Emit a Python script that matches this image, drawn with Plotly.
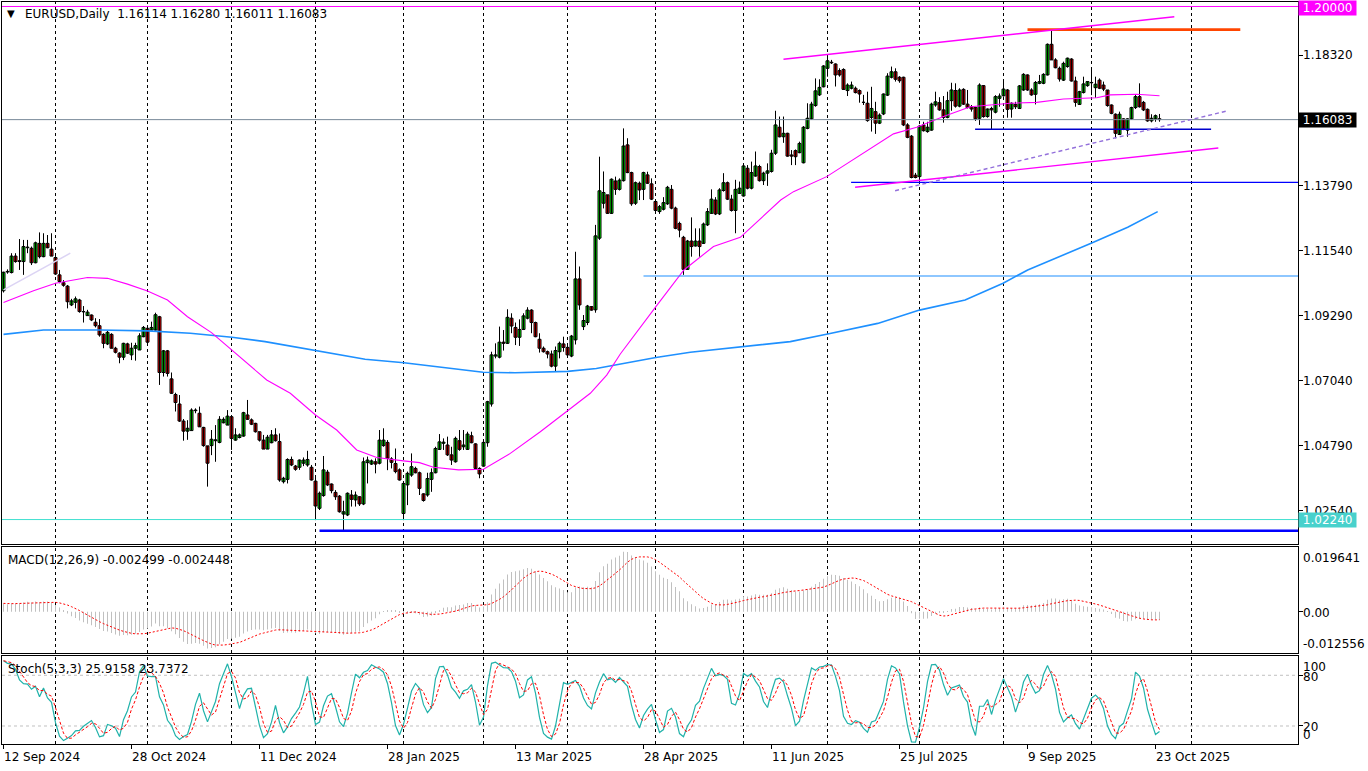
import plotly.graph_objects as go

# ---------------- data ----------------
O = [1.1016,1.1081,1.1079,1.1136,1.1120,1.1117,1.1165,1.1163,1.1113,1.1180,
     1.1134,1.1180,1.1160,1.1131,1.1071,1.1044,1.1032,1.0967,1.0976,1.0984,
     1.0944,1.0930,1.0932,1.0907,1.0895,1.0865,1.0832,1.0865,1.0817,1.0800,
     1.0786,1.0832,1.0794,1.0817,1.0811,1.0857,1.0886,1.0880,1.0880,1.0926,
     1.0733,1.0808,1.0711,1.0657,1.0624,1.0565,1.0530,1.0532,1.0601,1.0592,
     1.0543,1.0479,1.0480,1.0497,1.0491,1.0559,1.0551,1.0580,1.0499,1.0508,
     1.0513,1.0586,1.0569,1.0557,1.0528,1.0499,1.0468,1.0490,1.0517,1.0494,
     1.0355,1.0363,1.0432,1.0409,1.0405,1.0419,1.0413,1.0405,1.0357,1.0263,
     1.0307,1.0388,1.0347,1.0318,1.0305,1.0243,1.0240,1.0309,1.0292,1.0303,
     1.0278,1.0421,1.0416,1.0424,1.0419,1.0480,1.0491,1.0434,1.0418,1.0396,
     1.0245,1.0344,1.0378,1.0401,1.0386,1.0313,1.0309,1.0363,1.0386,1.0467,
     1.0488,1.0482,1.0448,1.0424,1.0497,1.0476,1.0467,1.0514,1.0486,1.0401,
     1.0409,1.0490,1.0624,1.0790,1.0786,1.0838,1.0834,1.0921,1.0889,1.0855,
     1.0882,1.0921,1.0949,1.0906,1.0848,1.0817,1.0805,1.0797,1.0755,1.0805,
     1.0832,1.0820,1.0790,1.0846,1.1057,1.0892,1.0906,1.0961,1.0950,1.1198,
     1.1319,1.1348,1.1284,1.1396,1.1367,1.1397,1.1521,1.1425,1.1319,1.1388,
     1.1367,1.1417,1.1386,1.1325,1.1290,1.1298,1.1317,1.1367,1.1302,1.1249,
     1.1201,1.1090,1.1188,1.1171,1.1188,1.1180,1.1244,1.1284,1.1330,1.1282,
     1.1363,1.1390,1.1333,1.1294,1.1353,1.1344,1.1440,1.1371,1.1413,1.1446,
     1.1397,1.1423,1.1429,1.1492,1.1582,1.1549,1.1561,1.1486,1.1501,1.1494,
     1.1459,1.1578,1.1611,1.1657,1.1694,1.1722,1.1786,1.1807,1.1801,1.1778,
     1.1782,1.1709,1.1717,1.1717,1.1709,1.1668,1.1665,1.1616,1.1636,1.1596,
     1.1628,1.1693,1.1755,1.1774,1.1755,1.1755,1.1590,1.1551,1.1416,1.1411,
     1.1590,1.1567,1.1572,1.1659,1.1667,1.1642,1.1616,1.1674,1.1709,1.1655,
     1.1713,1.1662,1.1653,1.1650,1.1613,1.1726,1.1619,1.1647,1.1634,1.1682,
     1.1691,1.1711,1.1645,1.1661,1.1647,1.1711,1.1763,1.1711,1.1696,1.1734,
     1.1734,1.1763,1.1869,1.1815,1.1786,1.1745,1.1792,1.1818,1.1742,1.1661,
     1.1702,1.1726,1.1737,1.1719,1.1745,1.1728,1.1711,1.1659,1.1627,1.1557,
     1.1611,1.1572,1.1611,1.1650,1.1688,1.1668,1.1644,1.1604,1.1611,1.16114]
H = [1.1082,1.1090,1.1146,1.1146,1.1195,1.1192,1.1192,1.1169,1.1186,1.1218,
     1.1215,1.1209,1.1215,1.1136,1.1088,1.1053,1.1036,1.0988,1.0996,1.0988,
     1.0963,1.0950,1.0934,1.0921,1.0918,1.0869,1.0877,1.0869,1.0822,1.0803,
     1.0836,1.0836,1.0836,1.0836,1.0869,1.0894,1.0892,1.0909,1.0940,1.0929,
     1.0811,1.0811,1.0733,1.0663,1.0655,1.0572,1.0568,1.0609,1.0609,1.0615,
     1.0545,1.0479,1.0534,1.0551,1.0582,1.0578,1.0603,1.0586,1.0540,1.0522,
     1.0597,1.0638,1.0574,1.0559,1.0528,1.0517,1.0517,1.0534,1.0540,1.0522,
     1.0372,1.0436,1.0442,1.0413,1.0432,1.0439,1.0462,1.0413,1.0378,1.0321,
     1.0444,1.0396,1.0349,1.0326,1.0309,1.0289,1.0318,1.0326,1.0321,1.0305,
     1.0439,1.0442,1.0432,1.0436,1.0534,1.0540,1.0499,1.0440,1.0470,1.0401,
     1.0355,1.0390,1.0453,1.0407,1.0390,1.0315,1.0386,1.0401,1.0476,1.0520,
     1.0505,1.0511,1.0476,1.0511,1.0534,1.0534,1.0528,1.0528,1.0488,1.0405,
     1.0494,1.0635,1.0805,1.0834,1.0892,1.0880,1.0952,1.0938,1.0906,1.0917,
     1.0938,1.0959,1.0952,1.0909,1.0869,1.0823,1.0809,1.0809,1.0823,1.0840,
     1.0857,1.0828,1.0863,1.1151,1.1100,1.0932,1.0967,1.0963,1.1244,1.1480,
     1.1429,1.1348,1.1405,1.1411,1.1405,1.1578,1.1544,1.1428,1.1394,1.1394,
     1.1428,1.1428,1.1405,1.1328,1.1313,1.1340,1.1379,1.1382,1.1307,1.1255,
     1.1206,1.1192,1.1270,1.1232,1.1232,1.1252,1.1302,1.1367,1.1340,1.1371,
     1.1423,1.1394,1.1348,1.1400,1.1394,1.1457,1.1451,1.1463,1.1498,1.1452,
     1.1428,1.1457,1.1504,1.1639,1.1619,1.1619,1.1563,1.1503,1.1505,1.1532,
     1.1586,1.1665,1.1670,1.1751,1.1748,1.1797,1.1832,1.1815,1.1803,1.1786,
     1.1786,1.1734,1.1740,1.1723,1.1713,1.1694,1.1705,1.1722,1.1670,1.1630,
     1.1699,1.1769,1.1792,1.1786,1.1759,1.1757,1.1596,1.1555,1.1424,1.1590,
     1.1601,1.1601,1.1667,1.1705,1.1686,1.1690,1.1705,1.1736,1.1734,1.1717,
     1.1717,1.1711,1.1659,1.1653,1.1734,1.1728,1.1647,1.1653,1.1693,1.1699,
     1.1745,1.1714,1.1668,1.1670,1.1728,1.1769,1.1765,1.1717,1.1742,1.1763,
     1.1769,1.1872,1.1919,1.1821,1.1792,1.1809,1.1823,1.1821,1.1757,1.1708,
     1.1757,1.1740,1.1786,1.1757,1.1751,1.1740,1.1711,1.1661,1.1630,1.1636,
     1.1613,1.1613,1.1653,1.1696,1.1734,1.1673,1.1647,1.1627,1.1626,1.16280]
L = [1.1010,1.1075,1.1076,1.1113,1.1088,1.1071,1.1146,1.1105,1.1111,1.1128,
     1.1132,1.1163,1.1136,1.1071,1.1042,1.1030,1.0955,1.0963,1.0955,1.0940,
     1.0906,1.0929,1.0911,1.0889,1.0857,1.0817,1.0828,1.0817,1.0799,1.0765,
     1.0776,1.0797,1.0776,1.0774,1.0811,1.0855,1.0834,1.0880,1.0878,1.0690,
     1.0719,1.0719,1.0659,1.0598,1.0562,1.0497,1.0500,1.0532,1.0592,1.0545,
     1.0476,1.0338,1.0447,1.0424,1.0488,1.0557,1.0551,1.0465,1.0497,1.0505,
     1.0511,1.0569,1.0551,1.0525,1.0494,1.0468,1.0468,1.0488,1.0494,1.0355,
     1.0349,1.0349,1.0409,1.0393,1.0396,1.0409,1.0407,1.0359,1.0222,1.0257,
     1.0303,1.0340,1.0315,1.0292,1.0248,1.0185,1.0236,1.0269,1.0269,1.0271,
     1.0274,1.0349,1.0413,1.0384,1.0415,1.0476,1.0395,1.0401,1.0384,1.0359,
     1.0222,1.0274,1.0372,1.0384,1.0309,1.0286,1.0303,1.0320,1.0384,1.0465,
     1.0465,1.0444,1.0413,1.0421,1.0462,1.0465,1.0465,1.0488,1.0398,1.0367,
     1.0407,1.0476,1.0615,1.0782,1.0782,1.0809,1.0832,1.0869,1.0828,1.0825,
     1.0880,1.0917,1.0869,1.0855,1.0802,1.0802,1.0782,1.0751,1.0736,1.0782,
     1.0805,1.0794,1.0786,1.0830,1.0950,1.0880,1.0897,1.0947,1.0940,1.1192,
     1.1301,1.1282,1.1282,1.1348,1.1363,1.1394,1.1423,1.1310,1.1313,1.1330,
     1.1330,1.1386,1.1330,1.1290,1.1282,1.1294,1.1313,1.1298,1.1229,1.1201,
     1.1071,1.1088,1.1134,1.1169,1.1134,1.1178,1.1240,1.1282,1.1278,1.1278,
     1.1359,1.1330,1.1290,1.1215,1.1351,1.1342,1.1367,1.1367,1.1411,1.1394,
     1.1382,1.1379,1.1425,1.1486,1.1547,1.1528,1.1480,1.1451,1.1451,1.1492,
     1.1457,1.1575,1.1607,1.1653,1.1690,1.1720,1.1757,1.1801,1.1723,1.1757,
     1.1711,1.1690,1.1713,1.1699,1.1667,1.1659,1.1601,1.1567,1.1559,1.1593,
     1.1624,1.1690,1.1751,1.1740,1.1736,1.1586,1.1544,1.1405,1.1405,1.1385,
     1.1567,1.1563,1.1570,1.1653,1.1639,1.1598,1.1613,1.1639,1.1650,1.1651,
     1.1659,1.1647,1.1636,1.1604,1.1590,1.1615,1.1615,1.1576,1.1630,1.1653,
     1.1688,1.1615,1.1615,1.1645,1.1645,1.1708,1.1708,1.1691,1.1661,1.1731,
     1.1731,1.1761,1.1815,1.1786,1.1740,1.1742,1.1788,1.1740,1.1653,1.1659,
     1.1699,1.1722,1.1693,1.1684,1.1714,1.1707,1.1653,1.1627,1.1544,1.1555,
     1.1572,1.1549,1.1607,1.1645,1.1650,1.1638,1.1601,1.1599,1.1601,1.16011]
C = [1.1080,1.1083,1.1136,1.1117,1.1117,1.1169,1.1167,1.1113,1.1182,1.1134,
     1.1180,1.1165,1.1136,1.1074,1.1048,1.1035,1.0978,1.0981,1.0988,1.0944,
     1.0943,1.0942,1.0915,1.0895,1.0863,1.0834,1.0872,1.0817,1.0803,1.0786,
     1.0834,1.0800,1.0817,1.0826,1.0860,1.0889,1.0838,1.0889,1.0933,1.0733,
     1.0808,1.0730,1.0661,1.0629,1.0565,1.0530,1.0540,1.0603,1.0603,1.0545,
     1.0480,1.0419,1.0502,1.0500,1.0571,1.0571,1.0582,1.0505,1.0517,1.0517,
     1.0594,1.0571,1.0554,1.0528,1.0499,1.0468,1.0509,1.0517,1.0497,1.0361,
     1.0367,1.0432,1.0413,1.0398,1.0430,1.0430,1.0432,1.0361,1.0271,1.0315,
     1.0396,1.0344,1.0324,1.0303,1.0251,1.0251,1.0315,1.0294,1.0309,1.0278,
     1.0424,1.0430,1.0427,1.0416,1.0499,1.0499,1.0436,1.0422,1.0390,1.0361,
     1.0349,1.0384,1.0407,1.0386,1.0332,1.0290,1.0366,1.0386,1.0470,1.0493,
     1.0492,1.0448,1.0430,1.0505,1.0467,1.0482,1.0520,1.0490,1.0401,1.0382,
     1.0491,1.0632,1.0794,1.0794,1.0838,1.0834,1.0924,1.0894,1.0855,1.0882,
     1.0929,1.0949,1.0906,1.0857,1.0817,1.0805,1.0797,1.0755,1.0809,1.0834,
     1.0820,1.0794,1.0859,1.1057,1.0967,1.0913,1.0963,1.0949,1.1206,1.1362,
     1.1356,1.1284,1.1402,1.1367,1.1399,1.1517,1.1425,1.1317,1.1390,1.1365,
     1.1425,1.1388,1.1333,1.1294,1.1307,1.1321,1.1374,1.1302,1.1232,1.1226,
     1.1090,1.1188,1.1169,1.1188,1.1169,1.1247,1.1290,1.1333,1.1282,1.1365,
     1.1390,1.1333,1.1294,1.1367,1.1371,1.1448,1.1371,1.1425,1.1448,1.1397,
     1.1423,1.1431,1.1492,1.1590,1.1549,1.1561,1.1482,1.1482,1.1480,1.1526,
     1.1582,1.1613,1.1662,1.1708,1.1720,1.1794,1.1812,1.1805,1.1763,1.1763,
     1.1713,1.1728,1.1728,1.1702,1.1697,1.1668,1.1605,1.1647,1.1596,1.1624,
     1.1697,1.1759,1.1774,1.1748,1.1743,1.1590,1.1547,1.1408,1.1408,1.1586,
     1.1570,1.1582,1.1662,1.1670,1.1642,1.1616,1.1674,1.1711,1.1655,1.1711,
     1.1662,1.1650,1.1645,1.1611,1.1728,1.1619,1.1645,1.1642,1.1688,1.1690,
     1.1714,1.1644,1.1665,1.1653,1.1725,1.1765,1.1711,1.1694,1.1737,1.1740,
     1.1765,1.1869,1.1815,1.1788,1.1749,1.1803,1.1821,1.1742,1.1668,1.1705,
     1.1732,1.1740,1.1736,1.1731,1.1717,1.1714,1.1657,1.1630,1.1561,1.1627,
     1.1576,1.1611,1.1650,1.1688,1.1653,1.1642,1.1604,1.1613,1.1622,1.16083]

DATE_LABELS = ["12 Sep 2024", "28 Oct 2024", "11 Dec 2024", "28 Jan 2025", "13 Mar 2025",
               "28 Apr 2025", "11 Jun 2025", "25 Jul 2025", "9 Sep 2025", "23 Oct 2025"]
DATE_LABEL_BARS = [0, 32, 64, 96, 128, 160, 192, 224, 256, 288]
MONTH_START_BARS = [13, 36, 57, 78, 100, 120, 141, 163, 185, 206, 229, 250, 272, 297]

# moving averages (bar position, value)
MA_FAST_BARS = [0, 7.5, 13, 21, 26, 31, 36, 41, 46, 52, 65.8, 71.7, 78, 83.3, 88.3, 93.3,
                100, 104, 107.5, 113.75, 120, 126.7, 134.2, 140.8, 146.7, 150.8, 154.2,
                163.1, 166.25, 170.1, 177.5, 184.2, 194.3, 197.5, 205.8, 214.2, 222.5,
                228.3, 235, 241.7, 251.7, 258.3, 265, 273.3, 276.7, 283.3, 289]
MA_FAST_VALS = [1.0975, 1.1016, 1.1042, 1.1062, 1.1059, 1.1039, 1.1015, 1.0984, 1.0926, 1.0871,
                1.0707, 1.0661, 1.0586, 1.0534, 1.0465, 1.0439, 1.0427, 1.0421, 1.0405, 1.0396,
                1.0398, 1.0453, 1.0528, 1.0597, 1.0661, 1.0724, 1.0797, 1.0961, 1.1019, 1.1088,
                1.1169, 1.1201, 1.1330, 1.1359, 1.1411, 1.1486, 1.1559, 1.1582, 1.1619, 1.1653,
                1.1665, 1.1668, 1.1680, 1.1684, 1.1694, 1.1696, 1.1691]
MA_SLOW_BARS = [0, 10, 24, 36, 46.7, 57.1, 65.4, 78.1, 90.4, 100.1, 112.3, 119.9, 127.9, 141.05,
                148.2, 154.2, 163.1, 171.7, 184.9, 196.7, 206.05, 218.55, 229.0, 240.4, 249.9,
                256.05, 272.2, 281.05, 288.55]
MA_SLOW_VALS = [1.0865, 1.0880, 1.0880, 1.0877, 1.0869, 1.0855, 1.0840, 1.0809, 1.0779, 1.0767,
                1.0747, 1.0734, 1.0732, 1.0737, 1.0747, 1.0762, 1.0785, 1.0803, 1.0822, 1.0840,
                1.0866, 1.0903, 1.0949, 1.0984, 1.1042, 1.1088, 1.1182, 1.1236, 1.1290]

# EMA state just before the first bar (estimated from the MACD start level)
EMA12_SEED, EMA26_SEED = 1.1090, 1.1062

# chart objects: (bar0, price0, bar1, price1); None bar1 = to the right edge
OBJ_RED_H = (256.0, 1.1920, 309.2, 1.1920)
OBJ_CH_UP = (195.0, 1.18171, 292.7, 1.19647)
OBJ_CH_LO = (212.9, 1.13741, 303.7, 1.15101)
OBJ_TREND_DASH = (222.9, 1.13623, 305.85, 1.16382)
OBJ_LAVENDER = (0.0, 1.1019, 16.7, 1.1146)
OBJ_NAVY_H = (242.9, 1.1575, 301.9, 1.1575)
OBJ_BLUE_H = (211.9, 1.1391, None, 1.1391)
OBJ_DODGER_H = (160.0, 1.1067, None, 1.1067)
OBJ_THICK_H = (79.0, 1.0185, None, 1.0185)
LEVEL_TOP = 1.20000
LEVEL_BID = 1.16083
LEVEL_LOW = 1.02240

MAIN_TICK_VALS = [1.18320, 1.13790, 1.11540, 1.09290, 1.07040, 1.04790, 1.02540]
MAIN_TICK_TEXT = ["1.18320", "1.13790", "1.11540", "1.09290", "1.07040", "1.04790", "1.02540"]

HEADER = "EURUSD,Daily\u00a0\u00a01.16114 1.16280 1.16011 1.16083"
MACD_HEADER = "MACD(12,26,9) -0.002499 -0.002448"
STOCH_HEADER = "Stoch(5,3,3) 25.9158 23.7372"

# ---------------- geometry / style ----------------
W, HT = 1368, 771
PLOT_L, PLOT_R = 2, 1298
X_RANGE = [-0.375, 323.625]
MAIN_PX = (2, 544)
MACD_PX = (547, 653)
STOCH_PX = (656, 744)
MAIN_RANGE = [1.01394, 1.20155]
MACD_RANGE = [-0.012556, 0.019641]
STOCH_RANGE = [-1.3, 102.8]
FONT = "DejaVu Sans"
BULL, BEAR = "#00FF00", "#FF0000"


def dom(px):
    return [1 - px[1] / HT, 1 - px[0] / HT]


def pxx(x):  # absolute px -> paper x
    return (x - PLOT_L) / (PLOT_R - PLOT_L)


def pxy(y):  # absolute px -> paper y
    return 1 - y / HT


N = len(C)
BARS = list(range(N))

# ---------------- indicators ----------------
def ema(vals, n, seed):
    a = 2.0 / (n + 1)
    e = seed
    out = []
    for v in vals:
        e = e + a * (v - e)
        out.append(e)
    return out


e12 = ema(C, 12, EMA12_SEED)
e26 = ema(C, 26, EMA26_SEED)
macd = [a - b for a, b in zip(e12, e26)]
signal = []
for i in range(N):
    w = macd[max(0, i - 8):i + 1]
    signal.append(sum(w) / len(w))

num, den = [], []
for i in range(N):
    lo = min(L[max(0, i - 4):i + 1])
    hi = max(H[max(0, i - 4):i + 1])
    num.append(C[i] - lo)
    den.append(hi - lo)
stk = []
for i in range(N):
    s_n = sum(num[max(0, i - 2):i + 1])
    s_d = sum(den[max(0, i - 2):i + 1])
    stk.append(100.0 * s_n / s_d if s_d > 0 else 50.0)
std = []
for i in range(N):
    w = stk[max(0, i - 2):i + 1]
    std.append(sum(w) / len(w))

# ---------------- traces ----------------
traces = []
wx, wy = [], []
for i in BARS:
    wx += [i, i, None]
    wy += [L[i], H[i], None]
traces.append(go.Scatter(x=wx, y=wy, mode="lines", line=dict(color="black", width=1),
                         xaxis="x", yaxis="y", hoverinfo="skip"))

for bull in (True, False):
    xs, bs, hs = [], [], []
    for i in BARS:
        if (C[i] >= O[i]) == bull:
            xs.append(i)
            bs.append(min(O[i], C[i]))
            hs.append(max(abs(C[i] - O[i]), 0.00004))
    traces.append(go.Bar(x=xs, y=hs, base=bs, width=0.75,
                         marker=dict(color=BULL if bull else BEAR, line=dict(color="black", width=1)),
                         xaxis="x", yaxis="y", hoverinfo="skip"))

traces.append(go.Scatter(x=MA_SLOW_BARS, y=MA_SLOW_VALS, mode="lines",
                         line=dict(color="#1E90FF", width=1.6), xaxis="x", yaxis="y"))
traces.append(go.Scatter(x=MA_FAST_BARS, y=MA_FAST_VALS, mode="lines",
                         line=dict(color="#FF00FF", width=1.1), xaxis="x", yaxis="y"))

traces.append(go.Bar(x=BARS, y=macd, width=0.25, marker=dict(color="#C0C0C0", line=dict(width=0)),
                     xaxis="x2", yaxis="y2", hoverinfo="skip"))
traces.append(go.Scatter(x=BARS, y=signal, mode="lines",
                         line=dict(color="#FF0000", width=1, dash="2px,2px"), xaxis="x2", yaxis="y2"))

traces.append(go.Scatter(x=BARS, y=stk, mode="lines",
                         line=dict(color="#20B2AA", width=1.2), xaxis="x3", yaxis="y3"))
traces.append(go.Scatter(x=BARS, y=std, mode="lines",
                         line=dict(color="#FF0000", width=1, dash="3px,2px"), xaxis="x3", yaxis="y3"))

fig = go.Figure(data=traces)

# ---------------- shapes ----------------
shapes = []
for xa, ya in (("x", "y"), ("x2", "y2"), ("x3", "y3")):
    for m in MONTH_START_BARS:
        shapes.append(dict(type="line", xref=xa, yref=ya + " domain", x0=m, x1=m, y0=0, y1=1,
                           line=dict(color="black", width=1, dash="3px,3px"), layer="below"))
for lv in (20, 80):
    shapes.append(dict(type="line", xref="x3 domain", yref="y3", x0=0, x1=1, y0=lv, y1=lv,
                       line=dict(color="#C0C0C0", width=1, dash="3px,3px"), layer="below"))


def seg(obj, color, width, dash="solid"):
    x0, y0, x1, y1 = obj
    if x1 is None:
        x1 = X_RANGE[1]
    return dict(type="line", xref="x", yref="y", x0=x0, y0=y0, x1=x1, y1=y1,
                line=dict(color=color, width=width, dash=dash), layer="above")


for lv, col in ((LEVEL_TOP, "#FF00FF"), (LEVEL_BID, "#778899"), (LEVEL_LOW, "#40E0D0")):
    shapes.append(dict(type="line", xref="x domain", yref="y", x0=0, x1=1, y0=lv, y1=lv,
                       line=dict(color=col, width=1), layer="above"))
shapes += [
    seg(OBJ_THICK_H, "#0000FF", 2.5),
    seg(OBJ_DODGER_H, "#1E90FF", 1.2),
    seg(OBJ_BLUE_H, "#0000FF", 1.2),
    seg(OBJ_NAVY_H, "#0000CD", 1.5),
    seg(OBJ_RED_H, "#FF4500", 2.6),
    seg(OBJ_CH_UP, "#FF00FF", 1.4),
    seg(OBJ_CH_LO, "#FF00FF", 1.4),
    seg(OBJ_TREND_DASH, "#9370DB", 1.4, "4px,3px"),
    seg(OBJ_LAVENDER, "#DCD4F4", 1.5),
]

# ---------------- annotations ----------------
ann = []
ann.append(dict(text="\u25BC", xref="paper", yref="paper", x=pxx(11), y=pxy(13),
                xanchor="center", yanchor="middle", showarrow=False, font=dict(size=10, color="black")))
ann.append(dict(text=HEADER, xref="paper", yref="paper", x=pxx(23), y=pxy(14),
                xanchor="left", yanchor="middle", showarrow=False))
ann.append(dict(text=MACD_HEADER, xref="paper", yref="paper", x=pxx(6), y=pxy(560),
                xanchor="left", yanchor="middle", showarrow=False))
ann.append(dict(text=STOCH_HEADER, xref="paper", yref="paper", x=pxx(6), y=pxy(669),
                xanchor="left", yanchor="middle", showarrow=False))
for b, t in zip(DATE_LABEL_BARS, DATE_LABELS):
    ann.append(dict(text=t, xref="x3", yref="paper", x=b - 0.3, y=pxy(757),
                    xanchor="left", yanchor="middle", showarrow=False))
for v, t in zip(MAIN_TICK_VALS, MAIN_TICK_TEXT):
    ann.append(dict(text=t, xref="paper", yref="y", x=pxx(1301), y=v,
                    xanchor="left", yanchor="middle", showarrow=False))
for y, t in ((557.7, "0.019641"), (612.7, "0.00"), (644.3, "-0.012556"),
             (666.5, "100"), (676.7, "80"), (726.7, "20"), (735.0, "0")):
    ann.append(dict(text=t, xref="paper", yref="paper", x=pxx(1301), y=pxy(y),
                    xanchor="left", yanchor="middle", showarrow=False))
# price boxes on the right scale (the top one sits against the window's top edge)
ann.append(dict(text="\u00a0%.5f\u00a0" % LEVEL_TOP, xref="paper", yref="paper", x=pxx(1298), y=1.0,
                xanchor="left", yanchor="top", showarrow=False, bgcolor="#FF00FF",
                borderpad=0, font=dict(color="white")))
for v, bg in ((LEVEL_BID, "#000000"), (LEVEL_LOW, "#48D1CC")):
    ann.append(dict(text="\u00a0%.5f\u00a0" % v, xref="paper", yref="y", x=pxx(1298), y=v,
                    xanchor="left", yanchor="middle", showarrow=False, bgcolor=bg,
                    borderpad=0, font=dict(color="white")))

axis_common = dict(showgrid=False, zeroline=False, showline=True, mirror=True,
                   linecolor="black", linewidth=1)
fig.update_layout(
    width=W, height=HT, autosize=False,
    margin=dict(l=PLOT_L, r=W - PLOT_R, t=0, b=0),
    paper_bgcolor="white", plot_bgcolor="white",
    showlegend=False, hovermode=False, barmode="overlay",
    font=dict(family=FONT, size=12, color="black"),
    xaxis=dict(domain=[0, 1], range=X_RANGE, anchor="y", showticklabels=False, ticks="", **axis_common),
    xaxis2=dict(domain=[0, 1], range=X_RANGE, anchor="y2", showticklabels=False, ticks="", **axis_common),
    xaxis3=dict(domain=[0, 1], range=X_RANGE, anchor="y3", showticklabels=False, ticks="outside",
                tickvals=DATE_LABEL_BARS, ticklen=4, tickcolor="black", **axis_common),
    yaxis=dict(domain=dom(MAIN_PX), range=MAIN_RANGE, anchor="x", side="right", showticklabels=False,
               ticks="outside", tickvals=MAIN_TICK_VALS, ticklen=4, tickcolor="black", **axis_common),
    yaxis2=dict(domain=dom(MACD_PX), range=MACD_RANGE, anchor="x2", side="right", showticklabels=False,
                ticks="outside", tickvals=[0.0], ticklen=4, tickcolor="black", **axis_common),
    yaxis3=dict(domain=dom(STOCH_PX), range=STOCH_RANGE, anchor="x3", side="right", showticklabels=False,
                ticks="outside", tickvals=[20, 80], ticklen=4, tickcolor="black", **axis_common),
    shapes=shapes, annotations=ann,
)

# remove the page's default 8px body margin so the figure sits at the window origin
PAGE_FIX = "document.body.style.margin='0';document.body.style.overflow='hidden';"
fig.write_html("out.html", post_script=PAGE_FIX, config={"displayModeBar": False})
